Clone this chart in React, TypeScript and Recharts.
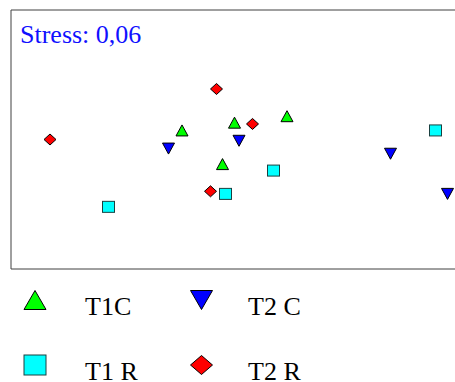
import React from 'react';
import {
  ScatterChart,
  Scatter,
  XAxis,
  YAxis,
  ReferenceArea,
  Legend,
} from 'recharts';

// NMDS axis 1 / axis 2 scores
const t1c = [
  { x: -0.36, y: 0.07 },
  { x: -0.01, y: 0.13 },
  { x: 0.34, y: 0.18 },
  { x: -0.09, y: -0.19 },
];
const t2c = [
  { x: -0.45, y: -0.07 },
  { x: 0.02, y: -0.01 },
  { x: 1.03, y: -0.11 },
  { x: 1.41, y: -0.42 },
];
const t1r = [
  { x: -0.85, y: -0.52 },
  { x: -0.07, y: -0.42 },
  { x: 0.25, y: -0.24 },
  { x: 1.33, y: 0.07 },
];
const t2r = [
  { x: -0.13, y: 0.39 },
  { x: -1.24, y: 0.0 },
  { x: 0.11, y: 0.12 },
  { x: -0.17, y: -0.4 },
];

const stressLabel = 'Stress: 0,06';
const xDomain = [-1.5, 1.5];
const yDomain = [-1, 1];

type Kind = 'up' | 'down' | 'square' | 'diamond';

const symbol = (kind: Kind, cx: number, cy: number, w: number, h: number, fill: string) => {
  const hw = w / 2;
  const hh = h / 2;
  if (kind === 'up') {
    return <polygon points={`${cx - hw},${cy + hh} ${cx + hw},${cy + hh} ${cx},${cy - hh}`} fill={fill} stroke="#000" strokeWidth={1} />;
  }
  if (kind === 'down') {
    return <polygon points={`${cx - hw},${cy - hh} ${cx + hw},${cy - hh} ${cx},${cy + hh}`} fill={fill} stroke="#000" strokeWidth={1} />;
  }
  if (kind === 'square') {
    return <rect x={cx - hw} y={cy - hh} width={w} height={h} fill={fill} stroke="#1a4040" strokeWidth={1} />;
  }
  return <polygon points={`${cx},${cy - hh} ${cx + hw},${cy} ${cx},${cy + hh} ${cx - hw},${cy}`} fill={fill} stroke="#000" strokeWidth={1} />;
};

const makeShape = (kind: Kind, fill: string) => (props: any) =>
  symbol(kind, props.cx, props.cy, 12, 11, fill);

const groups = [
  { name: 'T1C', data: t1c, kind: 'up' as Kind, fill: '#00ff00' },
  { name: 'T2 C', data: t2c, kind: 'down' as Kind, fill: '#0000ff' },
  { name: 'T1 R', data: t1r, kind: 'square' as Kind, fill: '#00ffff' },
  { name: 'T2 R', data: t2r, kind: 'diamond' as Kind, fill: '#ff0000' },
];

const LegendBox = () => (
  <svg width={455} height={102} style={{ display: 'block' }}>
    {groups.map((g, i) => {
      const col = i % 2;
      const row = Math.floor(i / 2);
      const sx = col === 0 ? 35 : 201.5;
      const sy = row === 0 ? 20 : 85;
      const tx = col === 0 ? 85 : 248;
      return (
        <g key={g.name}>
          {symbol(g.kind, sx, sy, 22, g.kind === 'square' ? 20 : 19, g.fill)}
          <text x={tx} y={row === 0 ? 35 : 100} fontFamily="'Liberation Serif', serif" fontSize={26} fill="#000">
            {g.name}
          </text>
        </g>
      );
    })}
  </svg>
);

const App: React.FC = () => {
  return (
    <div style={{ position: 'fixed', left: 0, top: 0, width: 455, height: 382, overflow: 'hidden', background: '#fff' }}>
      <ScatterChart width={470} height={382} margin={{ top: 10, right: 9, left: 11, bottom: 11 }}>
        <XAxis type="number" dataKey="x" domain={xDomain} hide />
        <YAxis type="number" dataKey="y" domain={yDomain} hide />
        <ReferenceArea
          x1={xDomain[0]}
          x2={xDomain[1]}
          y1={yDomain[0]}
          y2={yDomain[1]}
          fill="none"
          stroke="#404040"
          strokeWidth={1}
          ifOverflow="visible"
        />
        {groups.map((g) => (
          <Scatter
            key={g.name}
            name={g.name}
            data={g.data}
            shape={makeShape(g.kind, g.fill)}
            isAnimationActive={false}
          />
        ))}
        <text x={20} y={42.5} fontFamily="'Liberation Serif', serif" fontSize={26} fill="#1010ff">
          {stressLabel}
        </text>
        <Legend
          content={() => <LegendBox />}
          wrapperStyle={{ position: 'absolute', left: 0, top: 280, width: 455, height: 102 }}
        />
      </ScatterChart>
    </div>
  );
};

export default App;
